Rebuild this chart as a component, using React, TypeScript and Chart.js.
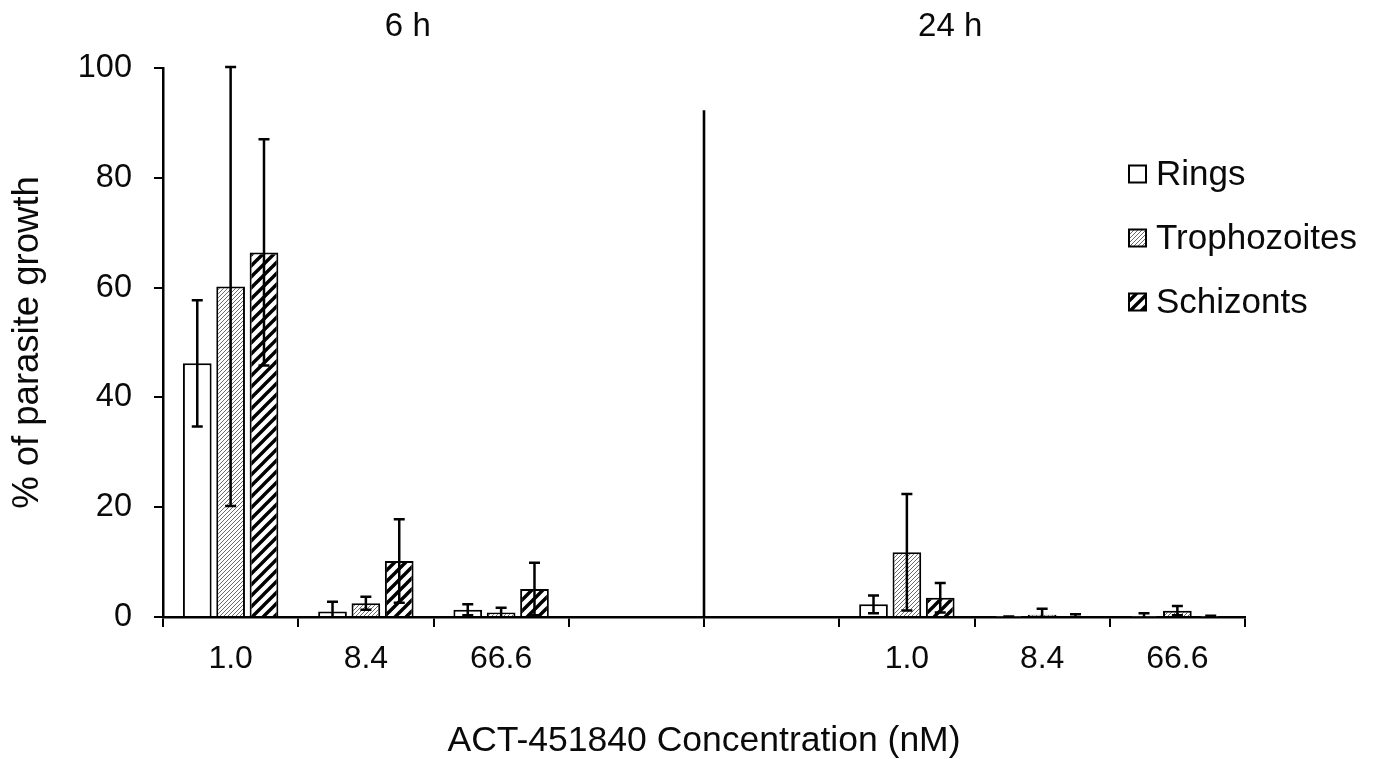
import React, { useEffect, useRef } from "react";
import { Chart, registerables } from "chart.js";

Chart.register(...registerables);

// ---- data ----
const categories = ["1.0", "8.4", "66.6", "", "", "1.0", "8.4", "66.6"];
const panelTitles = ["6 h", "24 h"];
const seriesNames = ["Rings", "Trophozoites", "Schizonts"];

const ringsValues = [46.2, 1.0, 1.3, null, null, 2.3, 0.05, 0.1];
const ringsErrors = [11.5, 1.8, 1.0, null, null, 1.6, 0.05, 0.6];

const trophozoitesValues = [60.2, 2.5, 0.8, null, null, 11.8, 0.4, 1.15];
const trophozoitesErrors = [40.0, 1.2, 0.9, null, null, 10.6, 1.1, 0.85];

const schizontsValues = [66.4, 10.2, 5.1, null, null, 3.5, 0.2, 0.05];
const schizontsErrors = [20.6, 7.6, 4.8, null, null, 2.7, 0.3, 0.2];

const yMin = 0;
const yMax = 100;
const yStep = 20;
const dividerTopValue = 92.3;

const xAxisTitle = "ACT-451840 Concentration (nM)";
const yAxisTitle = "% of parasite growth";

const FONT = "'Liberation Sans', Arial, Helvetica, sans-serif";
const TEXT = "#0a0a0a";

function makeHatch(kind: "fine" | "bold"): CanvasPattern | string {
  const s = kind === "fine" ? 4 : 11;
  const c = document.createElement("canvas");
  c.width = s;
  c.height = s;
  const g = c.getContext("2d");
  if (!g) return "#fff";
  g.fillStyle = "#ffffff";
  g.fillRect(0, 0, s, s);
  g.strokeStyle = kind === "fine" ? "#6a6a6a" : "#000000";
  g.lineWidth = kind === "fine" ? 1 : 3.4;
  g.lineCap = "square";
  g.beginPath();
  for (let k = -1; k <= 1; k++) {
    g.moveTo(k * s, s);
    g.lineTo(k * s + s, 0);
  }
  g.stroke();
  const p = g.createPattern(c, "repeat");
  return p || "#fff";
}

const errorBarPlugin = {
  id: "errorBars",
  afterDatasetsDraw(chart: any) {
    const { ctx, chartArea } = chart;
    const y = chart.scales.y;
    const x = chart.scales.x;
    ctx.save();
    ctx.beginPath();
    ctx.rect(chartArea.left, chartArea.top - 5, chartArea.right - chartArea.left, chartArea.bottom - chartArea.top + 5);
    ctx.clip();
    ctx.strokeStyle = "#000";
    ctx.lineWidth = 2.5;
    chart.data.datasets.forEach((ds: any, i: number) => {
      const meta = chart.getDatasetMeta(i);
      meta.data.forEach((el: any, j: number) => {
        const v = ds.data[j];
        const e = ds.errors ? ds.errors[j] : null;
        if (v == null || e == null) return;
        const top = y.getPixelForValue(v + e);
        const lowVal = v - e;
        const bot = y.getPixelForValue(Math.max(yMin, lowVal));
        const cx = el.x;
        const hw = 5.5;
        ctx.beginPath();
        ctx.moveTo(cx, top);
        ctx.lineTo(cx, bot);
        ctx.moveTo(cx - hw, top);
        ctx.lineTo(cx + hw, top);
        if (lowVal >= yMin) {
          ctx.moveTo(cx - hw, bot);
          ctx.lineTo(cx + hw, bot);
        }
        ctx.stroke();
      });
    });
    ctx.restore();

    // divider between the two panels
    ctx.save();
    const dx = (x.getPixelForValue(3) + x.getPixelForValue(4)) / 2;
    ctx.strokeStyle = "#000";
    ctx.lineWidth = 2.6;
    ctx.beginPath();
    ctx.moveTo(dx, y.getPixelForValue(dividerTopValue));
    ctx.lineTo(dx, y.getPixelForValue(yMin));
    ctx.stroke();

    // panel titles
    ctx.fillStyle = TEXT;
    ctx.font = `33px ${FONT}`;
    ctx.textAlign = "center";
    ctx.textBaseline = "middle";
    ctx.fillText(panelTitles[0], x.getPixelForValue(1.31), 27);
    ctx.fillText(panelTitles[1], x.getPixelForValue(5.32), 27);
    ctx.restore();
  },
  afterDraw(chart: any) {
    const { ctx } = chart;
    const left = chart.width - 247;
    const rows = [174, 238, 302];
    ctx.save();
    chart.data.datasets.forEach((ds: any, i: number) => {
      const cy = rows[i];
      const bs = 17;
      ctx.fillStyle = ds.backgroundColor;
      ctx.fillRect(left, cy - bs / 2, bs, bs);
      ctx.strokeStyle = "#000";
      ctx.lineWidth = 2;
      ctx.strokeRect(left, cy - bs / 2, bs, bs);
      ctx.fillStyle = TEXT;
      ctx.font = `35px ${FONT}`;
      ctx.textAlign = "left";
      ctx.textBaseline = "middle";
      ctx.fillText(ds.label, left + 27, cy + 1);
    });
    ctx.restore();
  },
};

export default function App() {
  const ref = useRef<HTMLCanvasElement | null>(null);

  useEffect(() => {
    if (!ref.current) return;
    Chart.defaults.font.family = FONT;
    const fills = ["#ffffff", makeHatch("fine"), makeHatch("bold")];
    const values = [ringsValues, trophozoitesValues, schizontsValues];
    const errs = [ringsErrors, trophozoitesErrors, schizontsErrors];

    const chart = new Chart(ref.current, {
      type: "bar",
      data: {
        labels: categories,
        datasets: seriesNames.map((name, i) => ({
          label: name,
          data: values[i],
          errors: errs[i],
          backgroundColor: fills[i],
          borderColor: "#000",
          borderWidth: 2,
          categoryPercentage: 0.74,
          barPercentage: 0.86,
        })) as any,
      },
      options: {
        animation: false,
        responsive: true,
        maintainAspectRatio: false,
        layout: { padding: { top: 68, right: 131, left: 0, bottom: 0 } },
        plugins: {
          legend: { display: false },
          tooltip: { enabled: false },
          title: { display: false },
        },
        scales: {
          x: {
            type: "category",
            offset: true,
            grid: {
              offset: true,
              drawOnChartArea: false,
              drawTicks: true,
              tickLength: 10,
              color: "#000",
              lineWidth: 2,
            },
            border: { display: true, color: "#000", width: 2.5 },
            ticks: {
              autoSkip: false,
              maxRotation: 0,
              padding: 13,
              color: TEXT,
              font: { size: 32, family: FONT },
            },
            title: {
              display: true,
              text: xAxisTitle,
              color: TEXT,
              font: { size: 35.5, family: FONT, lineHeight: 1 },
              padding: 0,
            },
            afterFit(scale: any) {
              scale.height = 142;
            },
          },
          y: {
            min: yMin,
            max: yMax,
            ticks: {
              stepSize: yStep,
              padding: 22,
              color: TEXT,
              font: { size: 32.5, family: FONT },
            },
            grid: {
              drawOnChartArea: false,
              drawTicks: true,
              tickLength: 9,
              color: "#000",
              lineWidth: 2,
            },
            border: { display: true, color: "#000", width: 2.5 },
            title: {
              display: true,
              text: yAxisTitle,
              color: TEXT,
              font: { size: 36.5, family: FONT, lineHeight: 1 },
              padding: { top: 10, bottom: 0 },
            },
            afterFit(scale: any) {
              scale.width = 163;
            },
          },
        },
      },
      plugins: [errorBarPlugin],
    } as any);

    return () => chart.destroy();
  }, []);

  return (
    <div
      style={{
        position: "fixed",
        left: 0,
        top: 0,
        width: 1376,
        height: 759,
        background: "#fff",
      }}
    >
      <canvas ref={ref} />
    </div>
  );
}
